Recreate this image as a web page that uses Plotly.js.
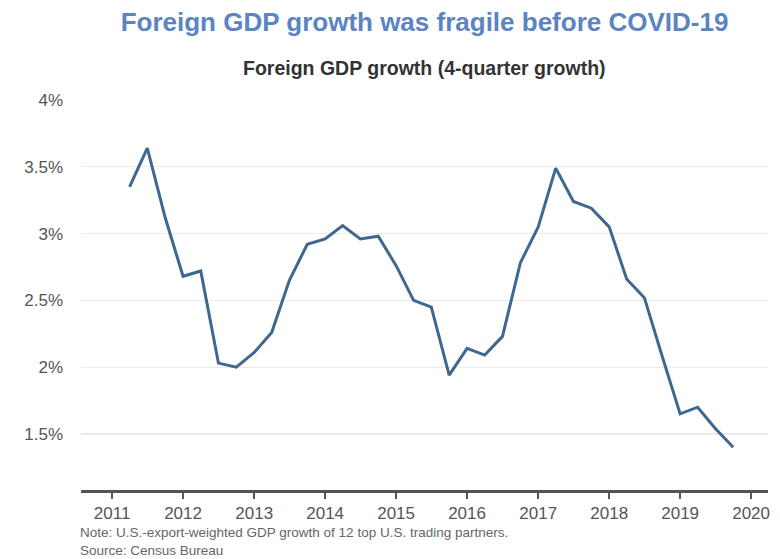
<!DOCTYPE html>
<html>
<head>
<meta charset="utf-8">
<script src="https://cdn.plot.ly/plotly-3.0.1.min.js"></script>
<style>
  html, body { margin: 0; padding: 0; background: #ffffff; }
  #chart { width: 780px; height: 559px; }
</style>
</head>
<body>
<div id="chart"></div>
<script>
// Quarter dates (x) and foreign GDP 4-quarter growth, percent (y)
const quarters = [
  "2011-04-01","2011-07-01","2011-10-01",
  "2012-01-01","2012-04-01","2012-07-01","2012-10-01",
  "2013-01-01","2013-04-01","2013-07-01","2013-10-01",
  "2014-01-01","2014-04-01","2014-07-01","2014-10-01",
  "2015-01-01","2015-04-01","2015-07-01","2015-10-01",
  "2016-01-01","2016-04-01","2016-07-01","2016-10-01",
  "2017-01-01","2017-04-01","2017-07-01","2017-10-01",
  "2018-01-01","2018-04-01","2018-07-01","2018-10-01",
  "2019-01-01","2019-04-01","2019-07-01","2019-10-01"
];
const growth = [
  3.35, 3.64, 3.12,
  2.68, 2.72, 2.03, 2.00,
  2.11, 2.26, 2.65, 2.92,
  2.96, 3.06, 2.96, 2.98,
  2.76, 2.50, 2.45, 1.94,
  2.14, 2.09, 2.23, 2.78,
  3.05, 3.49, 3.24, 3.19,
  3.05, 2.66, 2.52, 2.08,
  1.65, 1.70, 1.54, 1.40
];
const yTickVals = [1.5, 2, 2.5, 3, 3.5, 4];
const yTickText = ["1.5%", "2%", "2.5%", "3%", "3.5%", "4%"];
const xTickVals = ["2011-01-01","2012-01-01","2013-01-01","2014-01-01","2015-01-01",
                   "2016-01-01","2017-01-01","2018-01-01","2019-01-01","2020-01-01"];
const xTickText = ["2011","2012","2013","2014","2015","2016","2017","2018","2019","2020"];
const noteText = "Note: U.S.-export-weighted GDP growth of 12 top U.S. trading partners.";
const sourceText = "Source: Census Bureau";

const FONT = "Liberation Sans, Arial, Helvetica, sans-serif";

const trace = {
  x: quarters,
  y: growth,
  type: "scatter",
  mode: "lines",
  line: { color: "#3f6890", width: 3 },
  hoverinfo: "skip"
};

const layout = {
  width: 780,
  height: 559,
  margin: { l: 81, r: 12, t: 100, b: 69 },
  paper_bgcolor: "#ffffff",
  plot_bgcolor: "#ffffff",
  showlegend: false,
  font: { family: FONT, color: "#555555" },
  title: {
    text: "<b>Foreign GDP growth was fragile before COVID-19</b>",
    font: { family: FONT, size: 26, color: "#5b84c2" },
    x: 0.5, xref: "paper", xanchor: "center",
    y: 0.9606, yref: "container", yanchor: "middle"
  },
  xaxis: {
    type: "date",
    range: ["2010-07-25", "2020-03-28"],
    tickmode: "array",
    tickvals: xTickVals,
    ticktext: xTickText,
    ticks: "outside",
    ticklen: 6,
    tickwidth: 1.5,
    tickcolor: "#555555",
    showline: true,
    linecolor: "#555555",
    linewidth: 3,
    showgrid: false,
    zeroline: false,
    tickfont: { family: FONT, size: 17, color: "#555555" },
    fixedrange: true
  },
  yaxis: {
    range: [1.08, 4.0],
    tickmode: "array",
    tickvals: yTickVals,
    ticktext: yTickText,
    showgrid: true,
    gridcolor: "#ebebeb",
    gridwidth: 1.2,
    showline: false,
    zeroline: false,
    ticks: "",
    ticklabelstandoff: 17,
    tickfont: { family: FONT, size: 17, color: "#555555" },
    fixedrange: true
  },
  annotations: [
    {
      text: "<b>Foreign GDP growth (4-quarter growth)</b>",
      xref: "paper", yref: "paper",
      x: 0.5, y: 1.0, yshift: 32,
      xanchor: "center", yanchor: "middle",
      showarrow: false,
      font: { family: FONT, size: 19.5, color: "#333333" }
    },
    {
      text: noteText + "<br>" + sourceText,
      xref: "paper", yref: "paper",
      x: 0, y: 0, xshift: -3, yshift: -33,
      xanchor: "left", yanchor: "top",
      align: "left",
      showarrow: false,
      font: { family: FONT, size: 13.5, color: "#666666" }
    }
  ]
};

Plotly.newPlot("chart", [trace], layout, { displayModeBar: false, staticPlot: true });
</script>
</body>
</html>
